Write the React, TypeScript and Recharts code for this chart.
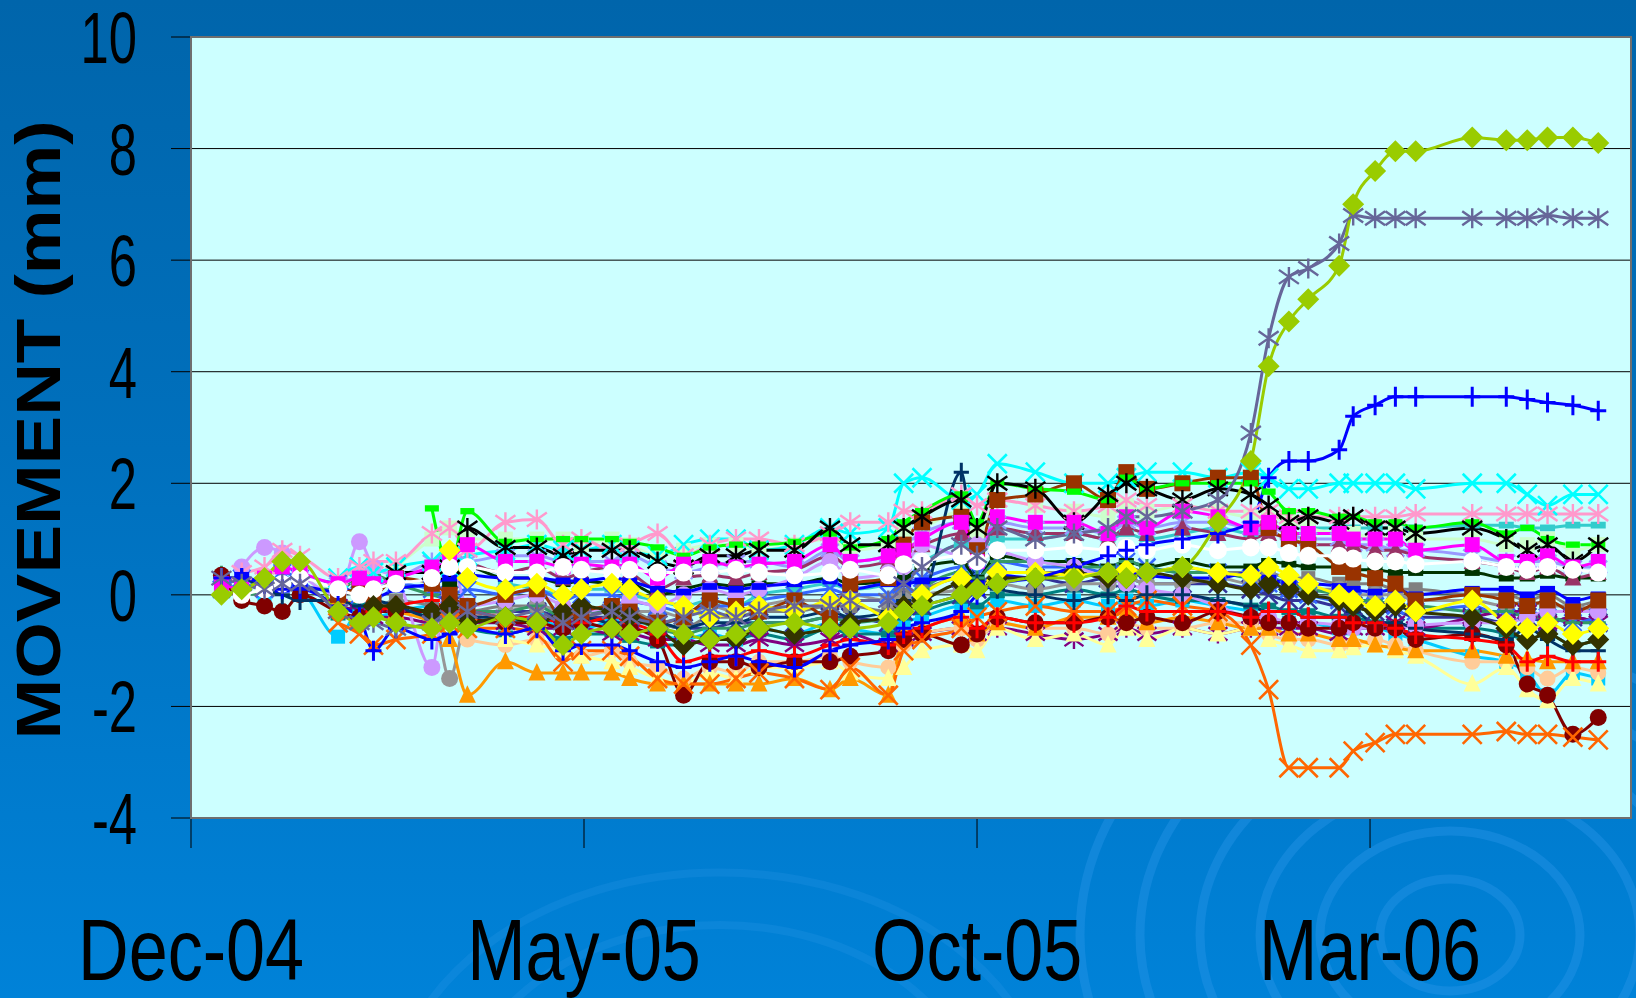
import { LineChart, Line, XAxis, YAxis, CartesianGrid } from "recharts";

// survey dates (columns of the movement table)
const surveyDates = [
  "2004-12-13", "2004-12-21", "2004-12-30", "2005-01-06", "2005-01-13", "2005-01-28", "2005-02-05", "2005-02-10", "2005-02-18", "2005-03-03",
  "2005-03-10", "2005-03-17", "2005-04-01", "2005-04-13", "2005-04-23", "2005-04-30", "2005-05-12", "2005-05-19", "2005-05-30", "2005-06-09",
  "2005-06-19", "2005-06-29", "2005-07-08", "2005-07-22", "2005-08-05", "2005-08-13", "2005-08-28", "2005-09-03", "2005-09-10", "2005-09-25",
  "2005-10-01", "2005-10-09", "2005-10-24", "2005-11-08", "2005-11-21", "2005-11-28", "2005-12-06", "2005-12-20", "2006-01-03", "2006-01-16",
  "2006-01-23", "2006-01-31", "2006-02-07", "2006-02-18", "2006-02-23", "2006-03-03", "2006-03-11", "2006-03-19", "2006-04-10", "2006-04-23",
  "2006-05-01", "2006-05-09", "2006-05-19", "2006-05-29",
];

const xTickMonths = [0, 5, 10, 15];
const xTickLabels = ["Dec-04", "May-05", "Oct-05", "Mar-06"];
const yTicks = [-4, -2, 0, 2, 4, 6, 8, 10];

const _ = null;

// movement (mm) per survey point
const limeDiamond = [
  0, 0.1, 0.3, 0.6, 0.6, -0.3, -0.5, -0.4, -0.5, -0.6,
  -0.5, -0.6, -0.4, -0.5, -0.9, -0.7, -0.6, -0.7, -0.6, -0.7,
  -0.8, -0.7, -0.6, -0.5, -0.6, -0.6, -0.5, -0.3, -0.2, 0.0,
  0.1, 0.2, 0.3, 0.3, 0.4, 0.3, 0.4, 0.5, 1.3, 2.4,
  4.1, 4.9, 5.3, 5.9, 7.0, 7.6, 7.95, 7.95, 8.2, 8.15,
  8.15, 8.2, 8.2, 8.1,
];
const slateStar = [
  0.3, 0.2, 0.1, 0.2, 0.2, -0.3, -0.5, -0.5, -0.6, -0.5,
  -0.4, -0.3, -0.4, -0.3, -0.5, -0.4, -0.3, -0.4, -0.5, -0.4,
  -0.3, -0.4, -0.3, -0.2, -0.2, -0.1, -0.1, 0.2, 0.5, 0.9,
  0.7, 1.2, 1.0, 1.1, 1.2, 1.4, 1.4, 1.5, 1.7, 2.9,
  4.6, 5.7, 5.85, 6.3, 6.8, 6.75, 6.75, 6.75, 6.75, 6.75,
  6.75, 6.8, 6.75, 6.75,
];
const bluePlus = [
  0.3, 0.3, 0.2, 0.1, 0.1, -0.2, -0.4, -1.0, -0.6, -0.8,
  -0.7, -0.6, -0.7, -0.6, -1.0, -0.9, -0.9, -1.0, -1.2, -1.3,
  -1.2, -1.1, -1.2, -1.3, -1.0, -0.9, -0.8, -0.6, -0.5, -0.3,
  0.0, 0.2, 0.3, 0.5, 0.7, 0.8, 0.9, 1.0, 1.1, 1.3,
  2.1, 2.4, 2.4, 2.6, 3.2, 3.4, 3.55, 3.55, 3.55, 3.55,
  3.5, 3.45, 3.4, 3.3,
];
const orangeX = [
  _, _, _, _, _, -0.5, -0.7, -0.9, -0.8, -0.7,
  -0.5, -0.6, -0.6, -0.7, -1.2, -1.0, -1.0, -1.1, -1.5, -1.6,
  -1.6, -1.5, -1.4, -1.5, -1.7, -1.3, -1.8, -1.0, -0.8, -0.6,
  -0.4, -0.3, -0.2, -0.3, -0.3, -0.2, -0.1, -0.2, -0.3, -0.9,
  -1.7, -3.1, -3.1, -3.1, -2.8, -2.65, -2.5, -2.5, -2.5, -2.45,
  -2.5, -2.5, -2.55, -2.6,
];
const cyanX = [
  _, _, _, _, _, 0.3, 0.5, 0.4, 0.5, 0.6,
  0.5, 0.7, 0.8, 0.9, 0.8, 0.8, 0.9, 0.8, 0.7, 0.9,
  1.0, 1.0, 0.8, 0.9, 1.2, 1.1, 1.2, 2.0, 2.1, 1.7,
  1.8, 2.35, 2.2, 2.0, 2.0, 2.1, 2.2, 2.2, 2.1, 2.2,
  2.1, 1.9, 1.9, 2.0, 2.0, 2.0, 2.0, 1.9, 2.0, 2.0,
  1.8, 1.6, 1.8, 1.8,
];
const pinkStar = [
  _, 0.4, 0.5, 0.8, 0.7, 0.3, 0.5, 0.6, 0.6, 1.1,
  1.2, 0.8, 1.3, 1.35, 0.9, 1.0, 0.8, 0.9, 1.1, 0.7,
  0.9, 1.0, 1.0, 0.9, 1.1, 1.3, 1.3, 1.5, 1.5, 1.8,
  1.6, 1.7, 1.6, 1.5, 1.6, 1.7, 1.6, 1.6, 1.5, 1.5,
  1.5, 1.4, 1.4, 1.4, 1.4, 1.4, 1.4, 1.45, 1.45, 1.45,
  1.45, 1.45, 1.45, 1.45,
];
const greenDash = [
  _, _, _, _, _, _, _, _, _, 1.55,
  0.5, 1.5, 0.95, 1.0, 1.0, 1.0, 1.0, 0.95, 0.85, 0.7,
  0.85, 0.9, 0.9, 0.95, 1.1, 0.85, 1.0, 1.3, 1.5, 1.8,
  1.3, 2.0, 1.9, 1.85, 1.7, 2.1, 1.9, 2.0, 2.0, 2.0,
  1.85, 1.5, 1.5, 1.4, 1.4, 1.3, 1.3, 1.2, 1.3, 1.1,
  1.2, 1.0, 0.9, 0.9,
];
const blackStar = [
  _, _, _, _, _, _, _, _, 0.4, 0.4,
  0.5, 1.2, 0.85, 0.85, 0.7, 0.8, 0.8, 0.8, 0.6, 0.5,
  0.7, 0.7, 0.8, 0.8, 1.2, 0.9, 0.9, 1.2, 1.4, 1.7,
  1.2, 2.0, 1.9, 1.3, 1.8, 2.0, 1.9, 1.7, 1.9, 1.8,
  1.6, 1.3, 1.4, 1.3, 1.4, 1.2, 1.2, 1.1, 1.2, 1.0,
  0.8, 0.9, 0.6, 0.9,
];
const magentaSquare = [
  0.2, 0.1, 0.3, 0.5, 0.4, 0.2, 0.3, 0.2, 0.3, 0.5,
  0.6, 0.9, 0.6, 0.6, 0.5, 0.55, 0.5, 0.55, 0.3, 0.55,
  0.6, 0.5, 0.55, 0.6, 0.9, 0.6, 0.7, 0.8, 1.0, 1.3,
  0.6, 1.4, 1.3, 1.3, 1.1, 1.4, 1.2, 1.5, 1.4, 1.2,
  1.3, 1.1, 1.1, 1.1, 1.0, 1.0, 1.0, 0.8, 0.9, 0.6,
  0.6, 0.7, 0.5, 0.6,
];
const brownSquare = [
  _, _, _, _, _, 0.0, 0.1, 0.0, 0.3, 0.2,
  0.0, -0.2, 0.0, 0.1, -0.4, -0.3, -0.2, -0.3, -0.5, -0.4,
  -0.1, -0.2, -0.3, -0.1, -0.4, 0.2, 0.3, 0.9, 1.3, 1.4,
  0.8, 1.7, 1.8, 2.0, 1.7, 2.2, 1.9, 2.0, 2.1, 2.1,
  1.2, 1.0, 0.9, 0.5, 0.4, 0.3, 0.2, -0.1, 0.0, -0.1,
  -0.2, -0.1, -0.3, -0.1,
];
const whiteCircle = [
  _, 0.0, 0.1, 0.2, 0.3, 0.1, 0.0, 0.1, 0.2, 0.3,
  0.5, 0.5, 0.4, 0.4, 0.5, 0.45, 0.4, 0.45, 0.4, 0.4,
  0.4, 0.45, 0.4, 0.35, 0.4, 0.45, 0.35, 0.55, 0.6, 0.7,
  0.6, 0.8, 0.8, 0.85, 0.8, 0.85, 0.8, 0.9, 0.8, 0.85,
  0.85, 0.75, 0.7, 0.7, 0.65, 0.6, 0.6, 0.55, 0.6, 0.5,
  0.45, 0.5, 0.45, 0.4,
];
const yellowDiamond = [
  _, _, _, _, _, _, _, _, _, _,
  0.8, 0.3, 0.1, 0.2, 0.0, 0.1, 0.2, 0.1, -0.1, -0.2,
  -0.4, -0.3, -0.2, -0.3, -0.1, -0.1, -0.4, -0.3, 0.0, 0.3,
  0.1, 0.4, 0.4, 0.35, 0.4, 0.45, 0.4, 0.5, 0.4, 0.35,
  0.5, 0.35, 0.2, 0.0, -0.1, -0.2, -0.1, -0.3, -0.1, -0.5,
  -0.6, -0.5, -0.7, -0.6,
];
const oliveDiamond = [
  _, _, _, _, _, _, _, -0.2, -0.2, -0.3,
  -0.2, -0.5, -0.4, -0.5, -0.3, -0.2, -0.3, -0.4, -0.6, -0.9,
  -0.8, -0.8, -0.6, -0.7, -0.6, -0.5, -0.4, -0.2, -0.1, 0.2,
  0.1, 0.3, 0.3, 0.4, 0.3, 0.3, 0.4, 0.3, 0.2, 0.1,
  0.2, 0.1, 0.0, -0.1, -0.2, -0.3, -0.2, -0.3, -0.4, -0.6,
  -0.8, -0.7, -0.9, -0.8,
];
const redPlus = [
  _, _, _, _, _, _, _, -0.3, -0.2, -0.1,
  -0.3, -0.3, -0.4, -0.4, -0.5, -0.5, -0.4, -0.5, -0.7, -1.2,
  -1.1, -1.1, -1.0, -1.1, -0.9, -0.8, -0.9, -0.7, -0.6, -0.4,
  -0.6, -0.4, -0.5, -0.5, -0.4, -0.2, -0.3, -0.3, -0.3, -0.4,
  -0.3, -0.3, -0.4, -0.4, -0.5, -0.5, -0.6, -0.7, -0.8, -0.9,
  -1.2, -1.1, -1.2, -1.2,
];
const orangeTriangle = [
  _, _, _, _, _, -0.1, _, _, -0.3, -0.5,
  -0.8, -1.8, -1.2, -1.4, -1.4, -1.4, -1.4, -1.5, -1.6, -1.6,
  -1.6, -1.6, -1.6, -1.5, -1.7, -1.5, -1.8, -0.7, -0.6, -0.4,
  -0.7, -0.5, -0.6, -0.4, -0.4, -0.3, -0.5, -0.4, -0.5, -0.6,
  -0.6, -0.7, -0.7, -0.8, -0.8, -0.9, -0.95, -1.0, -1.0, -1.1,
  -1.15, -1.2, -1.2, -1.2,
];
const paleTriangle = [
  _, _, _, _, _, _, _, _, _, _,
  _, _, -0.8, -0.9, -1.0, -1.1, -1.2, -1.3, -1.5, -1.6,
  -1.4, -1.5, -1.3, -1.3, -1.2, -1.4, -1.5, -1.3, -1.0, -0.9,
  -1.0, -0.6, -0.8, -0.7, -0.9, -0.6, -0.8, -0.6, -0.7, -0.6,
  -0.8, -0.9, -1.0, -1.0, -0.95, -0.9, -1.0, -1.1, -1.6, -1.3,
  -1.7, -1.9, -1.5, -1.6,
];
const darkRedCircle = [
  0.35, -0.1, -0.2, -0.3, 0.0, -0.3, -0.4, -0.3, -0.3, -0.3,
  -0.2, -0.4, -0.5, -0.5, -0.6, -0.5, -0.6, -0.6, -0.8, -1.8,
  -1.2, -1.2, -1.3, -1.2, -1.2, -1.1, -1.0, -0.8, -0.7, -0.9,
  -0.7, -0.4, -0.5, -0.5, -0.4, -0.5, -0.4, -0.5, -0.3, -0.4,
  -0.5, -0.5, -0.6, -0.6, -0.5, -0.6, -0.6, -0.8, -0.7, -0.9,
  -1.6, -1.8, -2.5, -2.2,
];
const purpleStar = [
  _, _, _, _, _, -0.2, -0.3, -0.4, -0.4, -0.5,
  -0.4, -0.5, -0.5, -0.6, -0.6, -0.6, -0.7, -0.7, -0.8, -0.8,
  -0.9, -0.9, -0.8, -0.9, -0.8, -0.7, -0.9, -0.8, -0.7, -0.6,
  -0.7, -0.6, -0.7, -0.8, -0.7, -0.6, -0.7, -0.6, -0.7, -0.6,
  -0.6, -0.6, -0.6, -0.7, -0.6, -0.6, -0.5, -0.6, -0.4, -0.3,
  -0.3, -0.5, -0.4, -0.5,
];
const lavenderCircle = [
  _, 0.5, 0.85, 0.75, 0.4, 0.0, 0.95, 0.5, 0.3, -1.3,
  0.7, -0.2, -0.1, 0.0, -0.2, -0.3, -0.2, -0.1, -0.2, 0.0,
  0.1, 0.0, 0.1, 0.3, 0.6, 0.3, 0.4, 0.5, 0.9, 0.7,
  0.9, 0.8, 0.6, 0.5, 0.3, 0.2, 0.1, 0.0, -0.2, -0.4,
  -0.4, -0.5, -0.5, -0.55, -0.6, -0.6, -0.6, -0.55, -0.5, -0.5,
  -0.4, -0.3, -0.3, -0.3,
];
const grayCircle = [
  _, _, _, _, _, _, _, -0.2, -0.3, -0.3,
  -1.5, -0.4, -0.3, -0.2, -0.3, -0.2, -0.3, -0.3, -0.3, -0.4,
  -0.2, -0.3, -0.2, -0.1, -0.1, 0.0, -0.1, -0.1, 0.0, 0.1,
  0.2, 0.2, 0.1, 0.2, 0.2, 0.3, 0.2, 0.2, 0.3, 0.2,
  0.3, 0.2, 0.1, 0.1, 0.0, 0.0, 0.0, -0.1, -0.1, -0.2,
  -0.1, -0.2, -0.2, -0.3,
];
const navyPlus = [
  0.3, 0.3, 0.1, 0.0, -0.1, -0.1, -0.2, -0.1, -0.2, -0.4,
  -0.3, -0.4, -0.4, -0.5, -0.4, -0.4, -0.5, -0.5, -0.5, -0.6,
  -0.5, -0.5, -0.4, -0.4, -0.3, -0.4, -0.3, -0.1, 0.0, 2.2,
  0.2, 0.1, 0.0, -0.1, 0.0, -0.1, 0.0, 0.0, -0.1, -0.2,
  -0.3, -0.3, -0.4, -0.4, -0.3, -0.5, -0.5, -0.6, -0.7, -0.8,
  -0.6, -0.8, -1.0, -1.0,
];
const blueDash = [
  _, 0.35, 0.2, 0.1, 0.15, 0.05, 0.1, -0.05, 0.1, 0.2,
  0.3, 0.35, 0.3, 0.3, 0.25, 0.25, 0.3, 0.25, 0.1, 0.05,
  0.15, 0.1, 0.15, 0.2, 0.25, 0.1, 0.2, 0.2, 0.25, 0.3,
  0.2, 0.35, 0.3, 0.4, 0.3, 0.4, 0.35, 0.3, 0.3, 0.4,
  0.3, 0.2, 0.2, 0.15, 0.1, 0.05, 0.1, 0.0, 0.1, 0.1,
  0.0, 0.1, -0.1, 0.0,
];
const plumTriangle = [
  _, _, _, _, _, _, _, _, _, _,
  _, 0.6, 0.4, 0.5, 0.3, 0.4, 0.5, 0.4, 0.1, 0.3,
  0.35, 0.3, 0.4, 0.45, 0.7, 0.5, 0.6, 0.8, 0.9, 1.1,
  0.7, 1.2, 1.1, 1.1, 1.0, 1.2, 1.1, 1.2, 1.1, 1.0,
  1.1, 1.0, 0.9, 0.9, 0.9, 0.8, 0.8, 0.7, 0.6, 0.5,
  0.4, 0.5, 0.3, 0.4,
];
const tealDash = [
  _, _, _, _, _, _, _, _, _, _,
  _, _, 0.2, 0.1, 0.0, 0.1, 0.1, 0.0, -0.1, -0.2,
  -0.1, -0.2, 0.0, 0.1, 0.2, 0.1, 0.2, 0.5, 0.6, 0.9,
  0.7, 1.0, 1.0, 1.1, 1.0, 1.1, 1.0, 1.1, 1.2, 1.1,
  1.2, 1.2, 1.2, 1.2, 1.2, 1.2, 1.2, 1.2, 1.25, 1.25,
  1.2, 1.2, 1.25, 1.25,
];
const skySquare = [
  0.2, 0.1, 0.0, 0.2, 0.1, -0.75, -0.3, -0.4, -0.3, -0.2,
  -0.2, -0.4, -0.5, -0.4, -0.6, -0.6, -0.5, -0.6, -0.7, -0.8,
  -0.7, -0.8, -0.6, -0.7, -0.5, -0.6, -0.7, -0.5, -0.4, -0.2,
  -0.3, -0.1, -0.2, -0.1, -0.2, -0.1, -0.2, -0.1, -0.2, -0.3,
  -0.4, -0.5, -0.5, -0.6, -0.6, -0.6, -0.7, -0.8, -1.1, -1.2,
  -1.4, -1.8, -1.4, -1.5,
];
const darkGreenDash = [
  _, _, _, _, _, _, _, _, _, _,
  0.2, 0.5, 0.3, 0.3, 0.2, 0.25, 0.2, 0.2, 0.0, 0.1,
  0.2, 0.15, 0.2, 0.2, 0.3, 0.2, 0.25, 0.3, 0.5, 0.6,
  0.3, 0.7, 0.6, 0.6, 0.5, 0.6, 0.5, 0.6, 0.5, 0.5,
  0.6, 0.55, 0.5, 0.5, 0.45, 0.45, 0.4, 0.4, 0.4, 0.3,
  0.3, 0.35, 0.3, 0.3,
];
const paleGreenSquare = [
  _, _, _, _, _, _, _, _, 0.5, 1.0,
  1.2, 1.0, 1.0, 1.0, 1.0, 0.9, 1.0, 0.9, 0.7, 0.8,
  0.9, 0.9, 0.8, 0.9, 1.0, 0.8, 0.9, 1.1, 1.2, 1.5,
  1.1, 1.7, 1.6, 1.5, 1.4, 1.6, 1.5, 1.6, 1.5, 1.4,
  1.4, 1.3, 1.2, 1.1, 1.1, 1.0, 1.1, 1.0, 1.0, 0.9,
  0.9, 1.0, 0.8, 0.9,
];
const seaGreenPlus = [
  0.35, 0.0, 0.05, 0.2, 0.1, 0.1, 0.3, 0.35, 0.2, 0.0,
  -0.1, -0.3, -0.3, -0.2, -0.4, -0.3, -0.3, -0.4, -0.6, -0.7,
  -0.6, -0.6, -0.5, -0.5, -0.4, -0.5, -0.4, -0.2, 0.1, 0.4,
  0.3, 0.6, 0.6, 0.5, 0.5, 0.6, 0.5, 0.4, 0.4, 0.3,
  0.3, 0.2, 0.1, 0.0, -0.1, -0.1, -0.2, -0.2, -0.3, -0.3,
  -0.4, -0.4, -0.5, -0.5,
];
const graySquare = [
  _, _, _, _, _, _, _, -0.3, -0.1, -0.2,
  -0.3, -0.3, -0.2, -0.2, -0.3, -0.4, -0.3, -0.3, -0.5, -0.6,
  -0.4, -0.4, -0.3, -0.3, -0.2, -0.2, -0.3, 0.0, 0.1, 0.3,
  0.2, 0.4, 0.4, 0.4, 0.3, 0.5, 0.4, 0.5, 0.4, 0.4,
  0.4, 0.3, 0.3, 0.2, 0.2, 0.2, 0.1, 0.1, 0.0, 0.0,
  -0.1, 0.0, -0.2, -0.1,
];
const indigoX = [
  _, _, _, _, _, _, _, _, _, _,
  -0.2, -0.3, -0.3, -0.3, -0.4, -0.4, -0.4, -0.4, -0.5, -0.6,
  -0.6, -0.5, -0.5, -0.5, -0.4, -0.4, -0.5, -0.3, -0.2, 0.0,
  0.1, 0.3, 0.3, 0.2, 0.3, 0.3, 0.2, 0.2, 0.2, 0.1,
  0.0, -0.1, -0.1, -0.2, -0.2, -0.3, -0.3, -0.4, -0.4, -0.5,
  -0.4, -0.5, -0.4, -0.5,
];
const royalBlueX = [
  0.1, 0.3, 0.1, 0.4, 0.3, 0.2, 0.0, 0.1, 0.2, 0.1,
  0.0, 0.1, 0.0, 0.1, -0.1, 0.0, 0.0, -0.1, -0.2, -0.3,
  -0.2, -0.2, -0.1, 0.0, 0.1, 0.0, 0.0, 0.2, 0.3, 0.5,
  0.4, 0.6, 0.5, 0.5, 0.4, 0.6, 0.5, 0.4, 0.4, 0.3,
  0.2, 0.1, 0.0, -0.1, -0.1, -0.2, -0.2, -0.3, -0.2, -0.4,
  -0.3, -0.4, -0.5, -0.4,
];
const darkTealDash = [
  _, _, _, _, _, -0.4, -0.2, -0.3, -0.2, -0.4,
  -0.4, -0.6, -0.7, -0.6, -0.8, -0.7, -0.7, -0.8, -0.9, -0.9,
  -0.8, -0.8, -0.7, -0.8, -0.6, -0.7, -0.7, -0.4, -0.3, -0.1,
  -0.2, 0.0, 0.0, 0.1, 0.0, 0.1, 0.0, -0.1, -0.1, -0.2,
  -0.2, -0.3, -0.3, -0.4, -0.4, -0.5, -0.5, -0.6, -0.6, -0.7,
  -0.8, -0.7, -0.9, -0.8,
];
const peachCircle = [
  _, _, _, _, _, _, _, _, _, _,
  _, -0.8, -0.9, -0.8, -1.0, -1.1, -1.0, -1.2, -1.3, -1.5,
  -1.3, -1.4, -1.2, -1.2, -1.1, -1.2, -1.3, -0.9, -0.7, -0.6,
  -0.8, -0.5, -0.6, -0.6, -0.7, -0.5, -0.6, -0.6, -0.5, -0.5,
  -0.7, -0.8, -0.8, -0.9, -0.9, -0.8, -0.9, -1.0, -1.2, -1.2,
  -1.3, -1.5, -1.3, -1.4,
];
const periwinkleStar = [
  _, _, _, _, _, 0.2, 0.3, 0.2, 0.3, 0.6,
  0.7, 0.6, 0.7, 0.7, 0.6, 0.6, 0.6, 0.7, 0.5, 0.4,
  0.5, 0.6, 0.6, 0.5, 0.8, 0.6, 0.7, 0.9, 1.1, 1.3,
  0.9, 1.3, 1.2, 1.2, 1.1, 1.3, 1.2, 1.3, 1.3, 1.2,
  1.2, 1.1, 1.0, 1.0, 0.9, 0.9, 0.8, 0.8, 0.7, 0.6,
  0.6, 0.6, 0.5, 0.5,
];

// drawing order: first is at the back
const seriesList = [
  { key: "tealDash", values: tealDash, color: "#33CCCC", marker: "dash", size: 15 },
  { key: "skySquare", values: skySquare, color: "#00CCFF", marker: "square", size: 14 },
  { key: "darkTealDash", values: darkTealDash, color: "#008080", marker: "dash", size: 15 },
  { key: "indigoX", values: indigoX, color: "#333399", marker: "x", size: 18 },
  { key: "purpleStar", values: purpleStar, color: "#800080", marker: "star", size: 19 },
  { key: "peachCircle", values: peachCircle, color: "#FFCC99", marker: "circle", size: 16 },
  { key: "graySquare", values: graySquare, color: "#808080", marker: "square", size: 14 },
  { key: "grayCircle", values: grayCircle, color: "#969696", marker: "circle", size: 17 },
  { key: "royalBlueX", values: royalBlueX, color: "#3366FF", marker: "x", size: 17 },
  { key: "darkGreenDash", values: darkGreenDash, color: "#003300", marker: "dash", size: 15 },
  { key: "seaGreenPlus", values: seaGreenPlus, color: "#339966", marker: "plus", size: 19 },
  { key: "paleGreenSquare", values: paleGreenSquare, color: "#CCFFCC", marker: "square", size: 15 },
  { key: "periwinkleStar", values: periwinkleStar, color: "#9999FF", marker: "star", size: 18 },
  { key: "plumTriangle", values: plumTriangle, color: "#993366", marker: "triangle", size: 20 },
  { key: "lavenderCircle", values: lavenderCircle, color: "#CC99FF", marker: "circle", size: 17 },
  { key: "cyanX", values: cyanX, color: "#00FFFF", marker: "x", size: 19 },
  { key: "pinkStar", values: pinkStar, color: "#FF99CC", marker: "star", size: 20 },
  { key: "paleTriangle", values: paleTriangle, color: "#FFFF99", marker: "triangle", size: 20 },
  { key: "orangeTriangle", values: orangeTriangle, color: "#FF9900", marker: "triangle", size: 20 },
  { key: "darkRedCircle", values: darkRedCircle, color: "#800000", marker: "circle", size: 17 },
  { key: "orangeX", values: orangeX, color: "#FF6600", marker: "x", size: 19 },
  { key: "navyPlus", values: navyPlus, color: "#003366", marker: "plus", size: 19 },
  { key: "redPlus", values: redPlus, color: "#FF0000", marker: "plus", size: 20 },
  { key: "blueDash", values: blueDash, color: "#0000FF", marker: "dash", size: 15 },
  { key: "brownSquare", values: brownSquare, color: "#993300", marker: "square", size: 16 },
  { key: "greenDash", values: greenDash, color: "#00FF00", marker: "dash", size: 14 },
  { key: "blackStar", values: blackStar, color: "#000000", marker: "star", size: 20 },
  { key: "magentaSquare", values: magentaSquare, color: "#FF00FF", marker: "square", size: 15 },
  { key: "whiteCircle", values: whiteCircle, color: "#FFFFFF", marker: "circle", size: 18 },
  { key: "oliveDiamond", values: oliveDiamond, color: "#333300", marker: "diamond", size: 22 },
  { key: "yellowDiamond", values: yellowDiamond, color: "#FFFF00", marker: "diamond", size: 22 },
  { key: "bluePlus", values: bluePlus, color: "#0000FF", marker: "plus", size: 20 },
  { key: "slateStar", values: slateStar, color: "#666699", marker: "star", size: 20 },
  { key: "limeDiamond", values: limeDiamond, color: "#99CC00", marker: "diamond", size: 22 },
];

// months since 1 Dec 2004
function monthsFromDec04(iso: string) {
  const [y, m, d] = iso.split("-").map(Number);
  const daysInMonth = new Date(y, m, 0).getDate();
  return (y - 2004) * 12 + (m - 12) + (d - 1) / daysInMonth;
}

const rows = surveyDates.map((d, i) => {
  const row: Record<string, number | null> = { m: monthsFromDec04(d) };
  seriesList.forEach((s) => {
    row[s.key] = s.values[i];
  });
  return row;
});

const FONT = "'Liberation Sans', Arial, sans-serif";

function makeMarker(shape: string, color: string, size: number, id: string) {
  return (props: any) => {
    const { cx, cy, index, value } = props;
    const k = `${id}-${index}`;
    if (value == null || !Number.isFinite(cx) || !Number.isFinite(cy)) return <g key={k} />;
    const r = size / 2;
    switch (shape) {
      case "diamond":
        return (
          <polygon
            key={k}
            points={`${cx},${cy - r} ${cx + r},${cy} ${cx},${cy + r} ${cx - r},${cy}`}
            fill={color}
          />
        );
      case "square":
        return <rect key={k} x={cx - r} y={cy - r} width={size} height={size} fill={color} />;
      case "dash":
        return <rect key={k} x={cx - r} y={cy - r * 0.45} width={size} height={r * 0.9} fill={color} />;
      case "triangle":
        return (
          <polygon
            key={k}
            points={`${cx},${cy - r} ${cx + r * 0.85},${cy + r * 0.75} ${cx - r * 0.85},${cy + r * 0.75}`}
            fill={color}
          />
        );
      case "circle":
        return <circle key={k} cx={cx} cy={cy} r={r} fill={color} />;
      case "x":
        return (
          <path
            key={k}
            d={`M${cx - r},${cy - r}L${cx + r},${cy + r}M${cx + r},${cy - r}L${cx - r},${cy + r}`}
            stroke={color}
            strokeWidth={2.6}
            fill="none"
          />
        );
      case "star":
        return (
          <path
            key={k}
            d={`M${cx - r},${cy - r * 0.7}L${cx + r},${cy + r * 0.7}M${cx + r},${cy - r * 0.7}L${cx - r},${cy + r * 0.7}M${cx},${cy - r}L${cx},${cy + r}`}
            stroke={color}
            strokeWidth={2.4}
            fill="none"
          />
        );
      default:
        return (
          <path
            key={k}
            d={`M${cx - r * 0.8},${cy}L${cx + r * 0.8},${cy}M${cx},${cy - r}L${cx},${cy + r}`}
            stroke={color}
            strokeWidth={3}
            fill="none"
          />
        );
    }
  };
}

function XTick(props: any) {
  const { x, y, payload } = props;
  const idx = xTickMonths.indexOf(payload.value);
  return (
    <g transform={`translate(${x} ${y}) scale(0.81 1)`}>
      <text x={0} y={0} dy={62} textAnchor="middle" fontSize={86.5} fontFamily={FONT} fill="#000">
        {xTickLabels[idx]}
      </text>
    </g>
  );
}

function YTick(props: any) {
  const { x, y, payload } = props;
  return (
    <g transform={`translate(${x} ${y}) scale(0.7 1)`}>
      <text x={0} y={0} dy={26} textAnchor="end" fontSize={72.5} fontFamily={FONT} fill="#000">
        {payload.value}
      </text>
    </g>
  );
}

export default function App() {
  return (
    <div
      style={{
        position: "absolute",
        left: 0,
        top: 0,
        width: 1636,
        height: 998,
        overflow: "hidden",
        background: "linear-gradient(180deg, #0065ab 0%, #0070bd 45%, #0082d8 100%)",
        fontFamily: FONT,
      }}
    >
      {/* background ripples */}
      <svg width={1636} height={998} style={{ position: "absolute", left: 0, top: 0 }}>
        {[70, 130, 190, 250, 310, 370].map((r) => (
          <ellipse
            key={r}
            cx={1450}
            cy={935}
            rx={r}
            ry={r * 0.8}
            fill="none"
            stroke="#2a97e8"
            strokeOpacity={0.4}
            strokeWidth={9}
          />
        ))}
        {[260, 330].map((r) => (
          <ellipse
            key={`m${r}`}
            cx={720}
            cy={1120}
            rx={r}
            ry={r * 0.75}
            fill="none"
            stroke="#2a97e8"
            strokeOpacity={0.25}
            strokeWidth={8}
          />
        ))}
      </svg>

      <div style={{ position: "absolute", left: 0, top: 0 }}>
        <LineChart width={1636} height={998} data={rows} margin={{ top: 37, right: 5, bottom: 0, left: 0 }}>
          <CartesianGrid vertical={false} stroke="#000" strokeWidth={1} fill="#CCFFFF" fillOpacity={1} />
          <XAxis
            type="number"
            dataKey="m"
            domain={[0, 18.32]}
            ticks={xTickMonths}
            interval={0}
            allowDataOverflow
            height={180}
            tickSize={30}
            tickMargin={70}
            tickLine={{ stroke: "#000", strokeWidth: 1 }}
            axisLine={{ stroke: "#666", strokeWidth: 2 }}
            tick={<XTick />}
          />
          <YAxis
            type="number"
            domain={[-4, 10]}
            ticks={yTicks}
            interval={0}
            allowDataOverflow
            width={191}
            tickSize={20}
            tickMargin={34}
            tickLine={{ stroke: "#000", strokeWidth: 1 }}
            axisLine={{ stroke: "#666", strokeWidth: 2 }}
            tick={<YTick />}
          />
          {seriesList.map((s) => (
            <Line
              key={s.key}
              dataKey={s.key}
              type="monotone"
              stroke={s.color}
              strokeWidth={3}
              connectNulls
              dot={makeMarker(s.marker, s.color, s.size, s.key)}
              activeDot={false}
              isAnimationActive={false}
            />
          ))}
        </LineChart>
      </div>

      {/* plot frame */}
      <div
        style={{
          position: "absolute",
          left: 190,
          top: 36,
          width: 1442,
          height: 783,
          border: "2px solid #6f6f6f",
          boxSizing: "border-box",
          pointerEvents: "none",
        }}
      />

      {/* axis title */}
      <svg width={120} height={998} style={{ position: "absolute", left: 0, top: 0, pointerEvents: "none" }}>
        <text
          x={60}
          y={430}
          transform="rotate(-90 60 430)"
          textAnchor="middle"
          fontSize={63}
          fontWeight="bold"
          fontFamily={FONT}
          textLength={619}
          lengthAdjust="spacingAndGlyphs"
          fill="#000"
        >
          MOVEMENT (mm)
        </text>
      </svg>
    </div>
  );
}
